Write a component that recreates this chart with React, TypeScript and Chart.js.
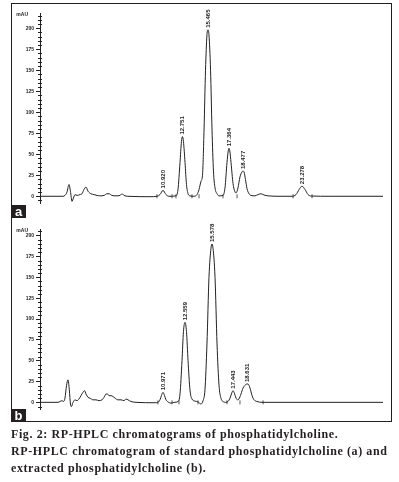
import React, { useEffect, useRef } from "react";
import { Chart, registerables } from "chart.js";
Chart.register(...registerables);

// ---------- data (retention time in min, absorbance in mAU) ----------
const timesA = [0.18, 2.23, 2.41, 2.59, 2.77, 2.90, 3.04, 3.17, 3.31, 3.49, 3.75, 3.93, 4.11, 4.29, 4.47, 4.74, 5.00, 5.27, 5.54, 5.90,
  6.17, 6.35, 6.61, 6.97, 7.33, 7.51, 7.69, 8.04, 10.01, 10.63, 10.90, 11.17, 11.44, 11.71, 12.33, 12.51, 12.69, 12.82, 12.91, 13.00,
  13.14, 13.27, 13.41, 13.58, 13.94, 14.21, 14.39, 14.57, 14.70, 14.84, 14.97, 15.10, 15.19, 15.28, 15.42, 15.55, 15.68, 15.82, 16.00, 16.18,
  16.53, 16.71, 16.89, 17.00, 17.07, 17.14, 17.25, 17.43, 17.61, 17.70, 17.87, 18.05, 18.23, 18.32, 18.41, 18.54, 18.68, 18.86, 19.04, 19.39,
  19.66, 19.93, 20.20, 20.56, 21.63, 22.70, 23.06, 23.33, 23.59, 23.86, 24.13, 24.40, 26.09, 30.83];
const signalA = [0, 0, 1, 5, 14, 6, -6, -2, 2, 1, 2, 3, 8, 11, 6, 3, 2, 1, 0.5, 1,
  3, 3, 1, 0.5, 1, 3, 1, 0, -0.5, 0, 2, 7, 2, 0, 0.5, 8, 40, 65, 71, 65,
  40, 14, 3, 0.5, 0, 2, 8, 18, 25, 80, 150, 192, 198, 192, 150, 80, 30, 10, 3, 0.5,
  1, 10, 40, 54, 57, 54, 40, 15, 5, 4, 10, 23, 29, 30, 29, 20, 9, 3, 1, 0.5,
  2, 3, 1.5, 0.5, 0, 0, 2, 8, 12, 8, 2, 0.3, 0, 0];
const peakLabelsA = ["10.920", "12.751", "15.465", "17.364", "18.477", "23.278"];
const markersA = [10.63, 11.98, 12.33, 13.76, 14.39, 16.53, 17.79, 22.79, 24.49];

const timesB = [0.18, 1.79, 1.97, 2.14, 2.28, 2.41, 2.55, 2.68, 2.80, 2.90, 2.99, 3.13, 3.31, 3.49, 3.66, 3.84, 4.02, 4.16, 4.29, 4.47,
  4.65, 4.92, 5.18, 5.45, 5.72, 5.90, 6.08, 6.21, 6.35, 6.52, 6.70, 6.88, 7.15, 7.42, 7.69, 7.86, 8.04, 8.31, 8.76, 10.46,
  10.72, 10.90, 11.03, 11.17, 11.31, 11.44, 11.62, 11.89, 12.15, 12.51, 12.69, 12.87, 13.00, 13.14, 13.27, 13.41, 13.58, 13.76, 14.03, 14.30,
  14.57, 14.75, 14.92, 15.10, 15.28, 15.46, 15.55, 15.64, 15.82, 16.00, 16.18, 16.35, 16.53, 16.80, 16.98, 17.16, 17.34, 17.43, 17.52, 17.70,
  17.83, 17.96, 18.14, 18.32, 18.54, 18.68, 18.77, 18.95, 19.13, 19.31, 19.57, 20.02, 30.83];
const signalB = [0, 0, 1, 2, 1, 5, 20, 27, 15, -2, -5, 0, 3, 2, 4, 8, 12, 14, 10, 6,
  5, 3, 3, 2, 3, 6, 10, 10, 8, 8, 7, 5, 3, 3, 2, 4, 3, 1, 0, -0.5,
  0, 3, 8, 12, 8, 3, 0.5, -1, 0, 1, 10, 50, 85, 96, 85, 50, 15, 4, 1.5, 0.5,
  -2, 2, 15, 70, 150, 185, 190, 185, 150, 70, 20, 5, 1, 0, 1, 5, 12, 14, 12, 5,
  3, 4, 10, 17, 21, 22, 22, 17, 8, 3, 1, 0, 0];
const peakLabelsB = ["10.971", "12.559", "15.578", "17.443", "18.631"];
const markersB = [10.72, 11.98, 12.60, 14.30, 16.89, 18.05, 20.11];

const yTicks = [0, 25, 50, 75, 100, 125, 150, 175, 200];
const yMinorStep = 5;
const timeMin = 0.18;
const timeMax = 30.83;
const yRangeA = [-8, 218];
const yRangeB = [-8, 208];
const yUnit = "mAU";
const panelLetters = ["a", "b"];
const captionTitle = "Fig. 2: RP-HPLC chromatograms of phosphatidylcholine.";
const captionBody = "RP-HPLC chromatogram of standard phosphatidylcholine (a) and";
const captionBody2 = "extracted phosphatidylcholine (b).";

const INK = "#222";
const SANS = '"Liberation Sans", Arial, sans-serif';

function annotatePlugin(labels: string[]) {
  return {
    id: "annot",
    afterDatasetsDraw(chart: any) {
      const ctx = chart.ctx;
      const xs = chart.scales.x;
      const ys = chart.scales.y;
      const pts = chart.data.datasets[0].data as { x: number; y: number }[];
      ctx.save();
      // minor ticks
      ctx.strokeStyle = INK;
      ctx.lineWidth = 1;
      const start = Math.ceil(ys.min / yMinorStep) * yMinorStep;
      for (let v = start; v <= ys.max; v += yMinorStep) {
        if (yTicks.includes(v)) continue;
        const y = Math.round(ys.getPixelForValue(v)) + 0.5;
        ctx.beginPath();
        ctx.moveTo(ys.right - 2, y);
        ctx.lineTo(ys.right + 2, y);
        ctx.stroke();
      }
      // unit label
      ctx.fillStyle = INK;
      ctx.font = `bold 5px ${SANS}`;
      ctx.textAlign = "right";
      ctx.textBaseline = "middle";
      ctx.fillText(yUnit, ys.right - 12, chart.chartArea.top + 2);
      // peak labels
      ctx.font = `bold 6px ${SANS}`;
      ctx.textAlign = "left";
      labels.forEach((lbl) => {
        const t0 = parseFloat(lbl);
        let best: { x: number; y: number } | null = null;
        pts.forEach((p) => {
          if (Math.abs(p.x - t0) <= 0.6 && (!best || p.y > best.y)) best = p;
        });
        if (!best) return;
        const px = xs.getPixelForValue((best as any).x);
        const py = ys.getPixelForValue((best as any).y);
        ctx.save();
        ctx.translate(px, py - 2);
        ctx.rotate(-Math.PI / 2);
        ctx.fillText(lbl, 0, 0);
        ctx.restore();
      });
      ctx.restore();
    },
  };
}

function makeConfig(times: number[], signal: number[], markers: number[], labels: string[], yRange: number[], padTop: number): any {
  const n = Math.min(times.length, signal.length);
  const trace = [];
  for (let i = 0; i < n; i++) trace.push({ x: times[i], y: signal[i] });
  return {
    type: "line",
    data: {
      datasets: [
        {
          data: trace,
          borderColor: INK,
          borderWidth: 1,
          pointRadius: 0,
          cubicInterpolationMode: "monotone",
          fill: false,
        },
        {
          data: markers.map((t) => ({ x: t, y: 0 })),
          showLine: false,
          pointStyle: "line",
          rotation: 90,
          pointRadius: 2,
          borderColor: "#555",
          borderWidth: 1,
        },
      ],
    },
    options: {
      responsive: false,
      animation: false,
      devicePixelRatio: 1,
      layout: { padding: { top: padTop, bottom: 2, left: 0, right: 5 } },
      plugins: { legend: { display: false }, tooltip: { enabled: false } },
      scales: {
        x: { type: "linear", min: timeMin, max: timeMax, display: false },
        y: {
          type: "linear",
          min: yRange[0],
          max: yRange[1],
          afterBuildTicks: (scale: any) => {
            scale.ticks = yTicks.map((v) => ({ value: v }));
          },
          afterFit: (scale: any) => {
            scale.width = 27;
          },
          border: { display: true, color: INK, width: 1 },
          grid: { drawOnChartArea: false, drawTicks: true, tickLength: 4, color: INK, tickColor: INK },
          ticks: { font: { size: 5, family: SANS, weight: "bold" }, color: INK, padding: 2 },
        },
      },
    },
    plugins: [annotatePlugin(labels)],
  };
}

export default function App() {
  const refA = useRef<HTMLCanvasElement>(null);
  const refB = useRef<HTMLCanvasElement>(null);
  useEffect(() => {
    const a = new Chart(refA.current!, makeConfig(timesA, signalA, markersA, peakLabelsA, yRangeA, 8));
    const b = new Chart(refB.current!, makeConfig(timesB, signalB, markersB, peakLabelsB, yRangeB, 10));
    return () => {
      a.destroy();
      b.destroy();
    };
  }, []);
  const letterStyle: React.CSSProperties = {
    position: "absolute",
    left: 11,
    width: 15,
    background: "#231f20",
    color: "#fff",
    font: `bold 13px ${SANS}`,
    textAlign: "center",
  };
  return (
    <div style={{ position: "absolute", left: 0, top: 0, width: 399, height: 482, background: "#fff" }}>
      <div style={{ position: "absolute", left: 11, top: 3, width: 381, height: 419, border: "1.5px solid #231f20", boxSizing: "border-box" }} />
      <canvas ref={refA} width={375} height={203} style={{ position: "absolute", left: 13, top: 5 }} />
      <canvas ref={refB} width={375} height={195} style={{ position: "absolute", left: 13, top: 219 }} />
      <div style={{ ...letterStyle, top: 205, height: 13, lineHeight: "13px" }}>{panelLetters[0]}</div>
      <div style={{ ...letterStyle, top: 409, height: 13, lineHeight: "13px" }}>{panelLetters[1]}</div>
      <div
        style={{
          position: "absolute",
          left: 11,
          top: 426,
          font: 'bold 12px "Liberation Serif", "Times New Roman", serif',
          lineHeight: "17px",
          letterSpacing: "0.6px",
          color: "#231f20",
          whiteSpace: "nowrap",
        }}
      >
        <div>{captionTitle}</div>
        <div>{captionBody}</div>
        <div>{captionBody2}</div>
      </div>
    </div>
  );
}
